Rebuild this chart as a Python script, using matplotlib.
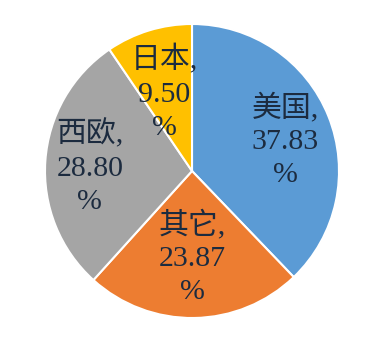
import numpy as np
import matplotlib
matplotlib.use("Agg")
import matplotlib.pyplot as plt

regions = ["美国", "其它", "西欧", "日本"]
shares = [37.83, 23.87, 28.80, 9.50]
colors = ["#5B9BD5", "#ED7D31", "#A5A5A5", "#FFC000"]
# label placement: distance from centre and angular nudge (degrees) per wedge
label_radius = [0.667, 0.585, 0.695, 0.565]
label_nudge = [-3.5, -0.8, 1.6, 2.6]

fig = plt.figure(figsize=(3.84, 3.43), dpi=100)
ax = fig.add_axes([45 / 384, 25 / 343, 294 / 384, 294 / 343])

wedges, _ = ax.pie(
    shares,
    colors=colors,
    startangle=90,
    counterclock=False,
    radius=1.0,
    wedgeprops=dict(edgecolor="white", linewidth=1.5),
)
ax.set_xlim(-1, 1)
ax.set_ylim(-1, 1)
ax.axis("off")

fonts = ["Liberation Serif", "Noto Sans CJK SC"]
for w, name, val, r, dn in zip(wedges, regions, shares, label_radius, label_nudge):
    mid = np.deg2rad((w.theta1 + w.theta2) / 2 + dn)
    x, y = r * np.cos(mid), r * np.sin(mid)
    ax.text(x, y, f"{name},\n{val:.2f}\n%", ha="center", va="center",
            fontsize=21.5, family=fonts, color="#1c2b3f", linespacing=1.35)

fig.savefig("out.png", dpi=100)
